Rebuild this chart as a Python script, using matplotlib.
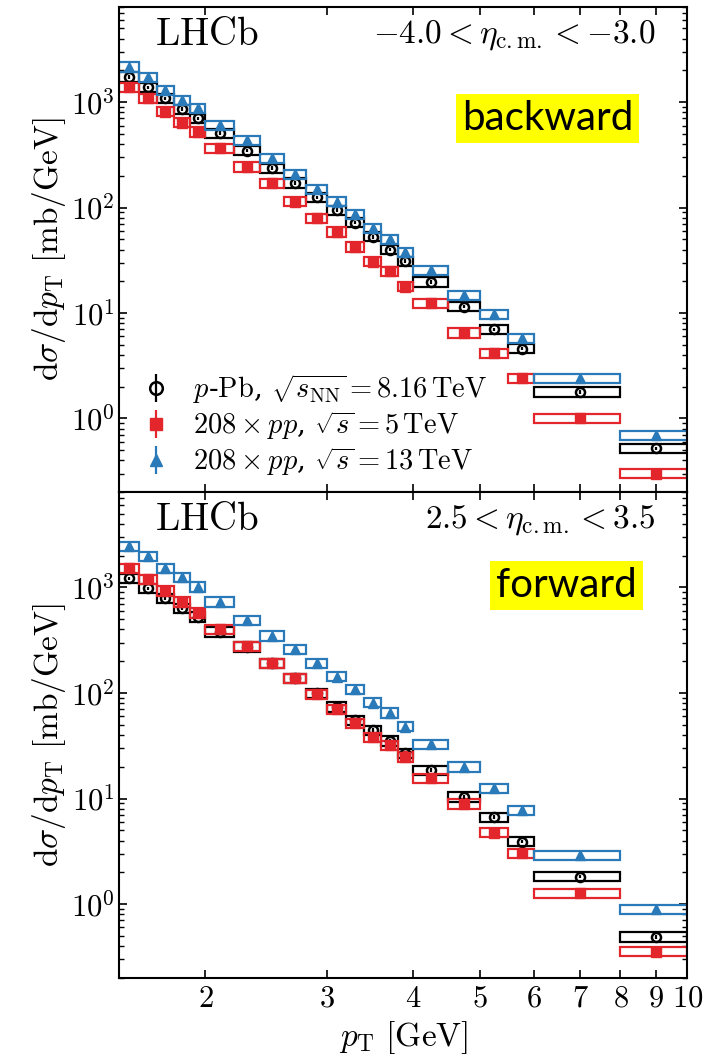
import numpy as np
import matplotlib
matplotlib.use("Agg")
import matplotlib.pyplot as plt
from matplotlib.ticker import FixedLocator, NullLocator, FuncFormatter, LogLocator

plt.rcParams['mathtext.fontset'] = 'cm'
plt.rcParams['font.family'] = ['DejaVu Serif']

# pT bin edges [GeV]
edges = np.array([1.5, 1.6, 1.7, 1.8, 1.9, 2.0, 2.2, 2.4, 2.6, 2.8, 3.0,
                  3.2, 3.4, 3.6, 3.8, 4.0, 4.5, 5.0, 5.5, 6.0, 8.0, 10.0])

# backward, -4.0 < eta < -3.0  [mb/GeV]
bwd_pPb = [1745, 1383, 1088, 856, 703, 507, 347, 236, 172, 125, 95, 72, 53, 40, 31,
           19.8, 11.5, 7.0, 4.6, 1.79, 0.52]
bwd_pp5 = [1384, 1088, 813, 639, 524, 365, 244, 170, 114, 79, 59, 42.5, 30.7, 25, 17.8,
           12.4, 6.5, 4.14, 2.40, 1.0, 0.30]
bwd_pp13 = [2170, 1720, 1300, 1050, 875, 607, 437, 293, 208, 149, 114, 86, 64, 50, 38,
            25.6, 14.8, 9.8, 5.8, 2.42, 0.695]

# forward, 2.5 < eta < 3.5  [mb/GeV]
fwd_pPb = [1219, 980, 788, 633, 528, 380, 274, 191, 138, 99, 74, 55, 44.6, 35.3, 26.8,
           18.6, 10.4, 6.65, 3.91, 1.82, 0.49]
fwd_pp5 = [1515, 1191, 929, 731, 575, 401, 278, 191, 138, 98, 70, 52, 38, 32, 24.9,
           15.5, 8.9, 4.75, 3.03, 1.27, 0.355]
fwd_pp13 = [2466, 1983, 1515, 1245, 1014, 731, 491, 348, 259, 191, 143, 108, 81, 65, 48,
            32.9, 20.0, 12.5, 7.8, 2.92, 0.89]

# relative uncertainties (systematic boxes, statistical bars)
sys_rel = 0.10
stat_rel = 0.04

labels = [r'$p$-${\rm Pb}$, $\sqrt{s_{\rm NN}}=8.16\,{\rm TeV}$',
          r'$208\times pp$, $\sqrt{s}=5\,{\rm TeV}$',
          r'$208\times pp$, $\sqrt{s}=13\,{\rm TeV}$']
colors = ['black', '#e3262b', '#2a7ab9']
markers = ['o', 's', '^']

centers = 0.5 * (edges[:-1] + edges[1:])
widths = np.diff(edges)

fig = plt.figure(figsize=(7.1, 10.56), dpi=100)
ax1 = fig.add_axes([0.168, 0.534, 0.800, 0.4594])
ax2 = fig.add_axes([0.168, 0.074, 0.800, 0.460], sharex=ax1, sharey=ax1)


def draw(ax, series):
    handles = []
    for y, c, m in zip(series, colors, markers):
        y = np.array(y)
        ax.bar(edges[:-1], 2 * sys_rel * y, width=widths, bottom=y * (1 - sys_rel),
               align='edge', fill=False, edgecolor=c, linewidth=1.6, zorder=2)
        if m == 'o':
            h = ax.errorbar(centers, y, yerr=stat_rel * y, fmt=m, color=c, mfc='none',
                            mec=c, mew=1.8, ms=6.5, elinewidth=1.6, capsize=0, zorder=3)
        else:
            h = ax.errorbar(centers, y, yerr=stat_rel * y, fmt=m, color=c, mfc=c,
                            mec=c, ms=6.5, elinewidth=1.6, capsize=0, zorder=3)
        handles.append(h)
    return handles


hs = draw(ax1, [bwd_pPb, bwd_pp5, bwd_pp13])
draw(ax2, [fwd_pPb, fwd_pp5, fwd_pp13])

ax1.set_xscale('log')
ax1.set_yscale('log')
ax1.set_xlim(1.5, 10)
ax1.set_ylim(0.2, 8000)

for ax in (ax1, ax2):
    ax.xaxis.set_major_locator(FixedLocator([2, 3, 4, 5, 6, 7, 8, 9, 10]))
    ax.xaxis.set_minor_locator(NullLocator())
    ax.xaxis.set_major_formatter(FuncFormatter(lambda v, p: r'$%d$' % round(v)))
    ax.yaxis.set_major_locator(LogLocator(base=10, numticks=20))
    ax.yaxis.set_minor_locator(LogLocator(base=10, subs=np.arange(2, 10), numticks=20))
    ax.yaxis.set_major_formatter(FuncFormatter(lambda v, p: r'$10^{%d}$' % round(np.log10(v))))
    ax.tick_params(which='both', direction='in', top=True, right=True, labelsize=22)
    ax.tick_params(which='major', length=6, width=1.2)
    ax.tick_params(which='minor', length=3.5, width=1.0)
    for s in ax.spines.values():
        s.set_linewidth(1.5)
    ax.set_ylabel(r'$\mathrm{d}\sigma/\mathrm{d}p_{\mathrm{T}}\ [\mathrm{mb/GeV}]$', fontsize=24)
    ax.yaxis.set_label_coords(-0.09, 0.5)
    ax.text(0.063, 0.922, r'$\mathrm{LHCb}$', transform=ax.transAxes, fontsize=28,
            ha='left', va='baseline')

plt.setp(ax1.get_xticklabels(), visible=False)
ax2.set_xlabel(r'$p_{\mathrm{T}}\ [\mathrm{GeV}]$', fontsize=24)

ax1.text(0.944, 0.926, r'$-4.0 < \eta_{\mathrm{c.m.}} < -3.0$', transform=ax1.transAxes,
         fontsize=24, ha='right', va='baseline')
ax2.text(0.944, 0.926, r'$2.5 < \eta_{\mathrm{c.m.}} < 3.5$', transform=ax2.transAxes,
         fontsize=24, ha='right', va='baseline')

ax1.text(0.754, 0.771, 'backward', transform=ax1.transAxes, fontsize=29,
         family=['Lato', 'DejaVu Sans'], ha='center', va='center',
         bbox=dict(boxstyle='square,pad=0.15', facecolor='#ffff00', edgecolor='none'))
ax2.text(0.787, 0.808, 'forward', transform=ax2.transAxes, fontsize=29,
         family=['Lato', 'DejaVu Sans'], ha='center', va='center',
         bbox=dict(boxstyle='square,pad=0.15', facecolor='#ffff00', edgecolor='none'))

ax1.legend(hs, labels, loc='lower left', bbox_to_anchor=(0.005, -0.012), frameon=False,
           fontsize=20.5, handlelength=1.0, handletextpad=0.8, markerscale=1.4,
           labelspacing=0.12, borderaxespad=0.3)

fig.savefig('out.png', dpi=100)
